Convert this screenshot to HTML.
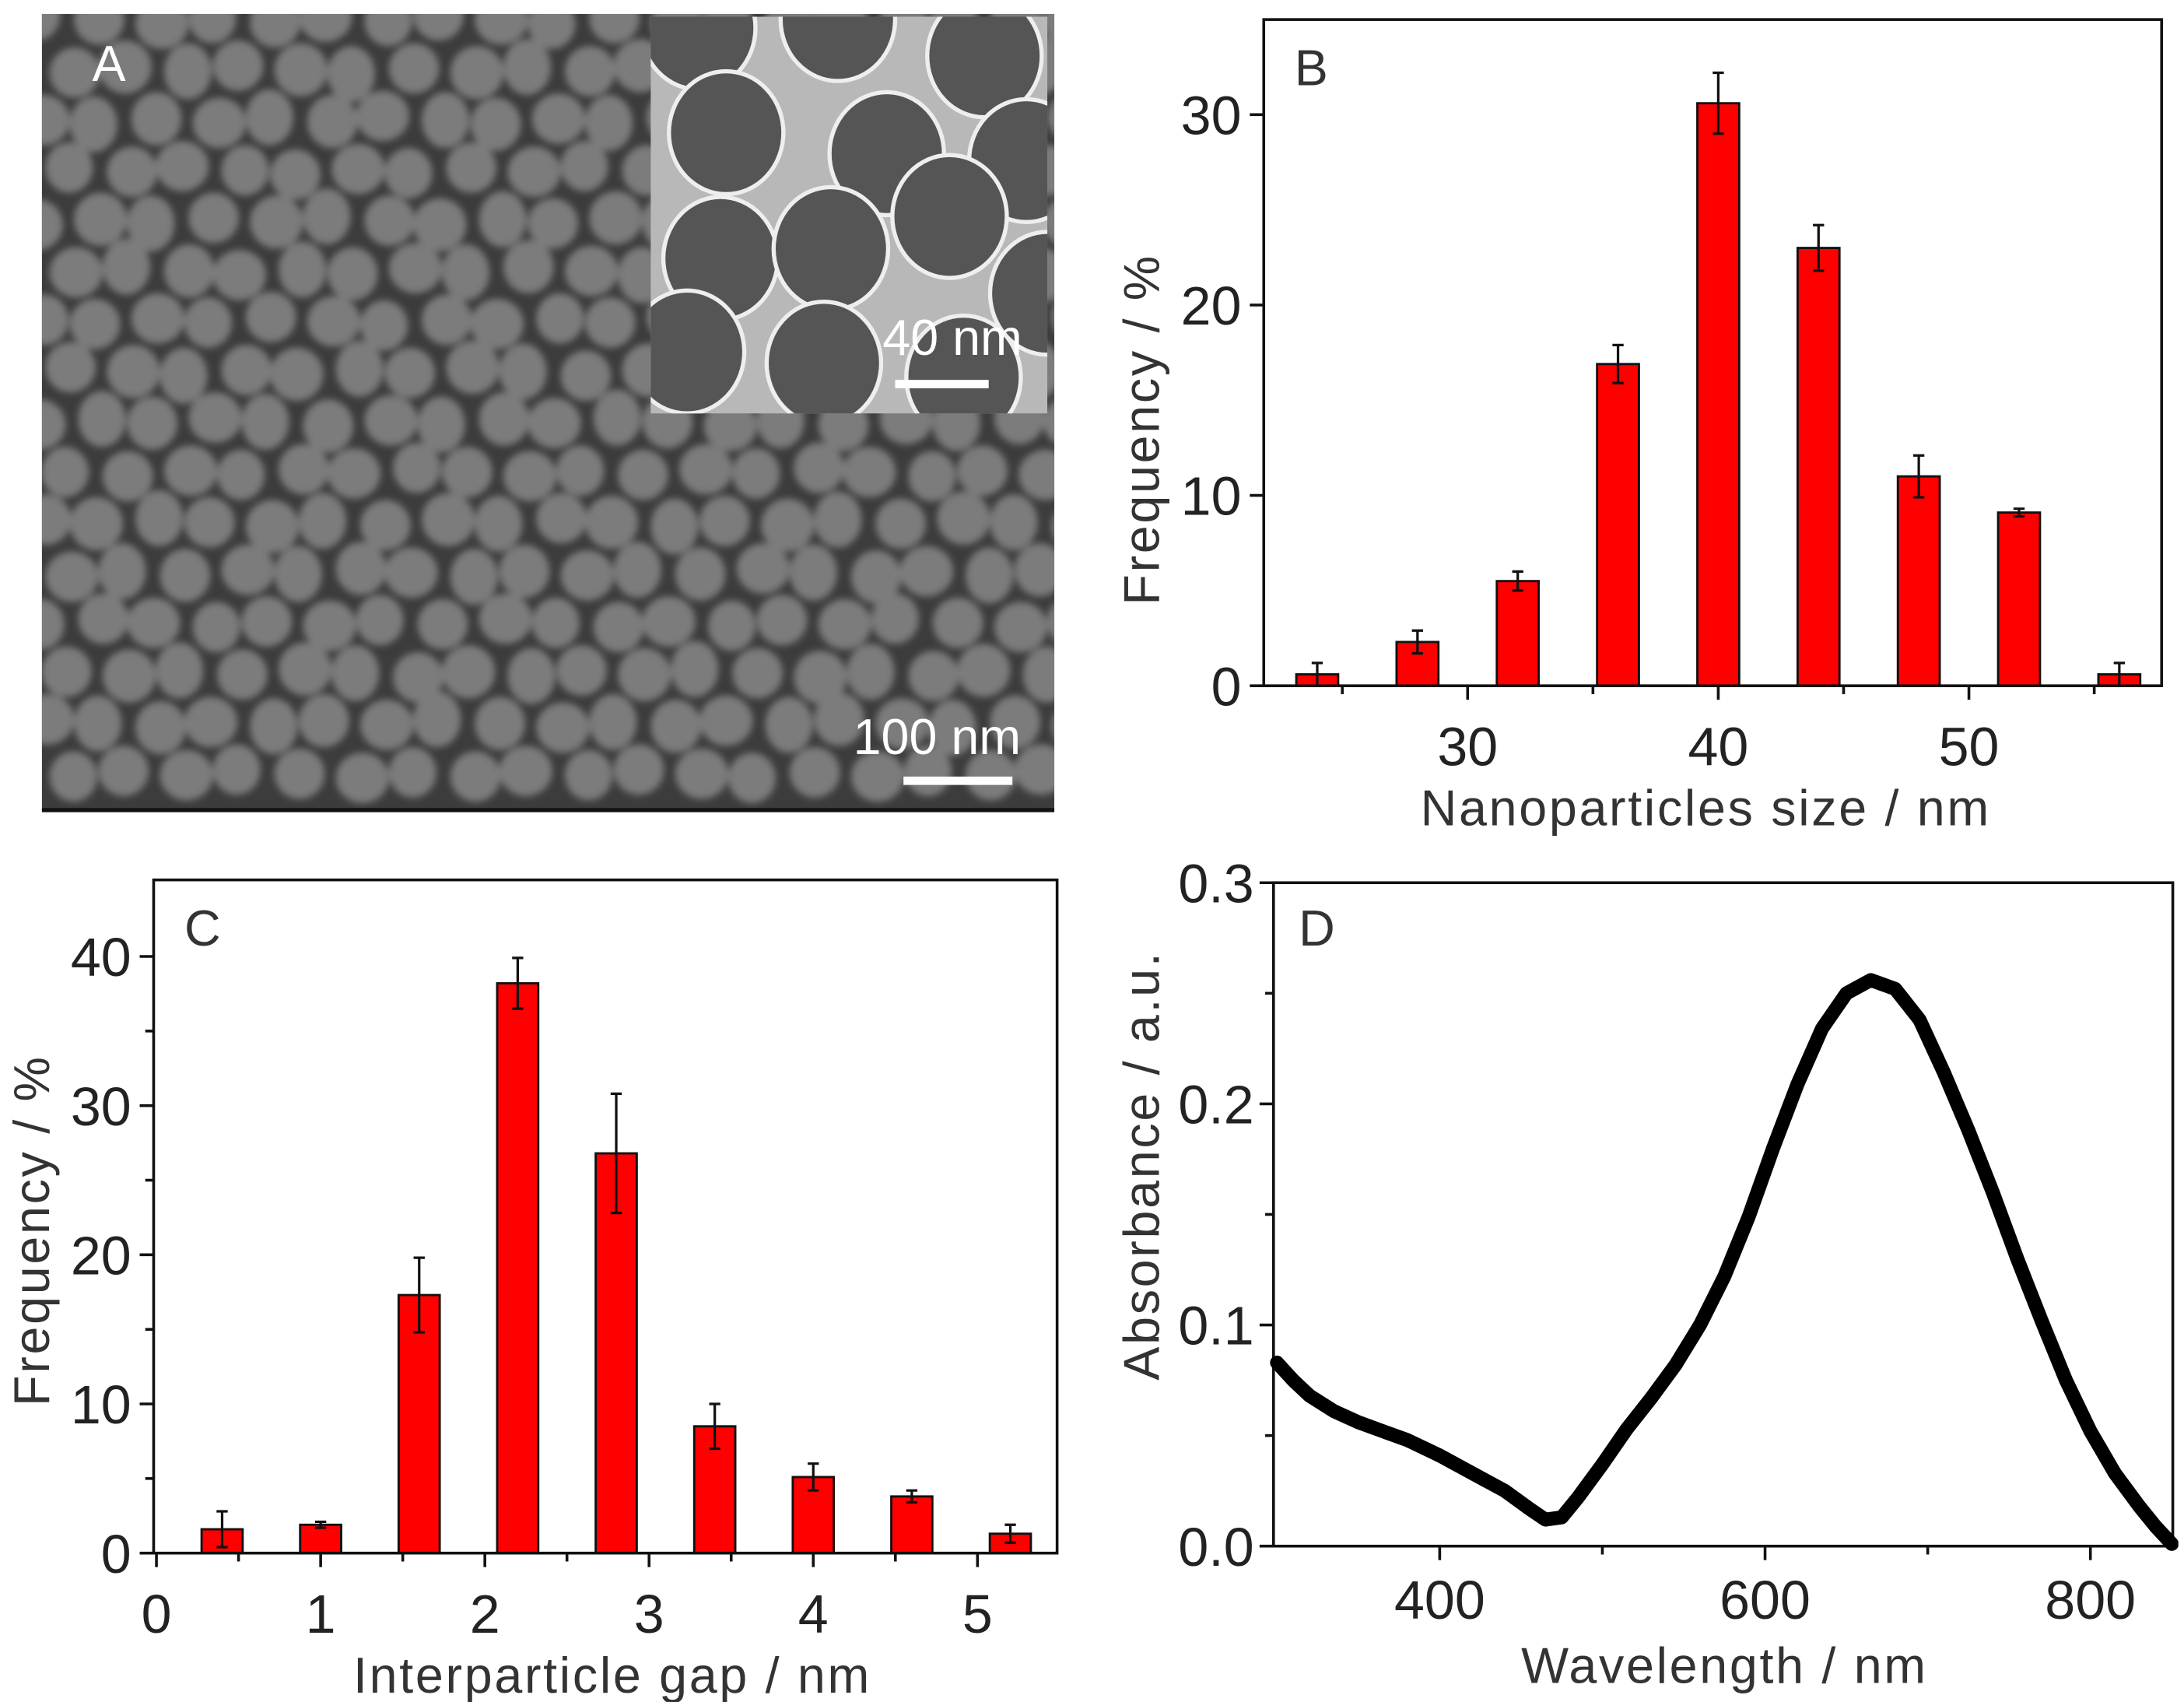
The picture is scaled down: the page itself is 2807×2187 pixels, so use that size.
<!DOCTYPE html>
<html><head><meta charset="utf-8"><style>
html,body{margin:0;padding:0;background:#fff}
svg{display:block}
text{font-family:"Liberation Sans",sans-serif;fill:#222}
</style></head><body>
<svg id="fig" width="2807" height="2187" viewBox="0 0 1564 1218.6" xmlns="http://www.w3.org/2000/svg">
<defs>
<clipPath id="clipA"><rect x="30" y="10" width="725" height="570"/></clipPath>
<clipPath id="clipIn"><rect x="466" y="12" width="284" height="284"/></clipPath>
<clipPath id="clipD"><rect x="905" y="620" width="655" height="495"/></clipPath>
<filter id="blur"><feGaussianBlur stdDeviation="2.5"/></filter>
</defs>
<g id="panelA">
<rect x="30" y="10" width="725" height="570" fill="#3c3c3c"/>
<g id="semDots" clip-path="url(#clipA)" filter="url(#blur)"></g>
<rect x="466" y="12" width="284" height="284" fill="#b8b8b8"/>
<g id="temDots" clip-path="url(#clipIn)"></g>
<line x1="30" y1="580" x2="755" y2="580" stroke="#111" stroke-width="3"/>
<text x="66" y="58" font-size="36" style="fill:#fff">A</text>
<text x="632" y="254" font-size="36" style="fill:#fff">40 nm</text>
<rect x="641" y="272" width="67" height="6" fill="#fff"/>
<text x="611" y="540" font-size="36" style="fill:#fff">100 nm</text>
<rect x="647" y="556" width="78" height="6" fill="#fff"/>
</g>
<g id="panelB"></g>
<g id="panelC"></g>
<g id="panelD"></g>
</svg>
<script>
// Panel B data
const bCategories=[24,28,32,36,40,44,48,52,56];
const bValues=[0.6,2.3,5.5,16.9,30.6,23.0,11.0,9.1,0.6];
const bErrors=[0.6,0.6,0.5,1.0,1.6,1.2,1.1,0.2,0.6];
const bXTicks=[30,40,50];
const bYTicks=[0,10,20,30];
// Panel C data
const cCategories=[0.4,1.0,1.6,2.2,2.8,3.4,4.0,4.6,5.2];
const cValues=[1.6,1.9,17.3,38.2,26.8,8.5,5.1,3.8,1.3];
const cErrors=[1.2,0.2,2.5,1.7,4.0,1.5,0.9,0.4,0.6];
const cXTicks=[0,1,2,3,4,5];
const cYTicks=[0,10,20,30,40];
// Panel D data
const dWavelength=[300,310,320,335,350,365,380,400,420,440,455,465,475,485,500,515,530,545,560,575,590,605,620,635,650,665,680,695,710,725,740,755,770,785,800,815,830,840,850];
const dAbsorbance=[0.083,0.075,0.068,0.061,0.056,0.052,0.048,0.041,0.033,0.025,0.017,0.012,0.013,0.022,0.037,0.053,0.067,0.082,0.100,0.122,0.149,0.180,0.209,0.234,0.250,0.256,0.252,0.238,0.214,0.188,0.160,0.130,0.102,0.075,0.052,0.033,0.018,0.009,0.001];
const dXTicks=[400,600,800];
const dYTicks=[0.0,0.1,0.2,0.3];

const NS="http://www.w3.org/2000/svg";
function mk(parent,tag,attrs){const e=document.createElementNS(NS,tag);for(const k in attrs)e.setAttribute(k,attrs[k]);parent.appendChild(e);return e;}

(function(){
  const g=document.getElementById('semDots');
  for(let r=0;r<16;r++){for(let c=0;c<20;c++){
    const cx=30+c*41+(r%2)*20.5+((r*7+c*13)%9)-4;
    const cy=14+r*36+((r*5+c*3)%7)-3;
    const e=mk(g,'ellipse',{cx:cx,cy:cy,rx:17+((r+c)%3),ry:18+((r*c)%3),fill:'#7b7b7b'});
    
    
  }}
  const t=document.getElementById('temDots');
  const pts=[[500,20],[600,14],[705,40],[520,95],[635,110],[735,115],[516,185],[595,178],[680,155],[750,210],[492,252],[590,260],[690,270]];
  pts.forEach(p=>{const e=mk(t,'ellipse',{cx:p[0],cy:p[1],rx:41,ry:44,fill:'#555',stroke:'#eee','stroke-width':3});
    
    });
})();

function axesFrame(g,L,T,R,B){
  const f=mk(g,'rect',{x:L,y:T,width:R-L,height:B-T,fill:'none',stroke:'#111','stroke-width':2});
  
  
}

function barPanel(id,o){
  const g=document.getElementById(id);
  const xs=v=>o.L+(v-o.x0)/(o.x1-o.x0)*(o.R-o.L);
  const ys=v=>o.B-(v-o.y0)/(o.y1-o.y0)*(o.B-o.T);
  const bw=xs(o.bw)-xs(0);
  o.cats.forEach((c,i)=>{
    const x=xs(c),y=ys(o.vals[i]);
    const b=mk(g,'rect',{x:x-bw/2,y:y,width:bw,height:o.B-y,fill:'#f00',stroke:'#111','stroke-width':1.6});
    
    
    const yt=ys(o.vals[i]+o.errs[i]),yb=ys(Math.max(0,o.vals[i]-o.errs[i]));
    const e=mk(g,'path',{d:`M${x},${yt}V${yb}M${x-4},${yt}H${x+4}M${x-4},${yb}H${x+4}`,stroke:'#111','stroke-width':1.8,fill:'none'});
    
    
  });
  axesFrame(g,o.L,o.T,o.R,o.B);
  o.xt.forEach(v=>{const x=xs(v);
    mk(g,'line',{x1:x,y1:o.B,x2:x,y2:o.B+10,stroke:'#111','stroke-width':2});
    const t=mk(g,'text',{x:x,y:o.B+57,'font-size':39,'text-anchor':'middle'});t.textContent=v;
    
    });
  o.xm.forEach(v=>{const x=xs(v);mk(g,'line',{x1:x,y1:o.B,x2:x,y2:o.B+6,stroke:'#111','stroke-width':2});});
  o.yt.forEach(v=>{const y=ys(v);
    mk(g,'line',{x1:o.L-10,y1:y,x2:o.L,y2:y,stroke:'#111','stroke-width':2});
    const t=mk(g,'text',{x:o.L-16,y:y+14,'font-size':39,'text-anchor':'end'});t.textContent=v;
    
    });
  o.ym.forEach(v=>{const y=ys(v);mk(g,'line',{x1:o.L-6,y1:y,x2:o.L,y2:y,stroke:'#111','stroke-width':2});});
  const xl=mk(g,'text',{x:(o.L+o.R)/2+o.xlOff,y:o.B+100,'font-size':36,'letter-spacing':1.5,'text-anchor':'middle',style:'fill:#333'});xl.textContent=o.xlab;
  
  
  const yl=mk(g,'text',{x:0,y:0,'font-size':36,'letter-spacing':1.5,'text-anchor':'middle',style:'fill:#333',transform:`translate(${o.ylx},${(o.T+o.B)/2+o.ylOff}) rotate(-90)`});yl.textContent='Frequency / %';
  
  
  const pl=mk(g,'text',{x:o.L+22,y:o.T+47,'font-size':36,style:'fill:#333'});pl.textContent=o.label;
  
  
}

barPanel('panelB',{L:905,T:14,R:1548,B:491,x0:30-(1051-905)/17.95,x1:30+(1548-1051)/17.95,y0:0,y1:(491-14)/13.63,
  cats:bCategories,vals:bValues,errs:bErrors,bw:1.67,xt:bXTicks,xm:[25,35,45,55],yt:bYTicks,ym:[],xlab:'Nanoparticles size / nm',xlOff:-5,ylx:830,ylOff:55,label:'B'});
barPanel('panelC',{L:110,T:630,R:757,B:1112,x0:-(112-110)/117.6,x1:(757-112)/117.6,y0:0,y1:(1112-630)/10.68,
  cats:cCategories,vals:cValues,errs:cErrors,bw:0.25,xt:cXTicks,xm:[0.5,1.5,2.5,3.5,4.5],yt:cYTicks,ym:[5,15,25,35],xlab:'Interparticle gap / nm',xlOff:5,ylx:35,ylOff:10,label:'C'});

(function(){
  const g=document.getElementById('panelD');
  const L=912,T=632,R=1556,B=1107;
  const xs=v=>1031+(v-400)*1.165;
  const ys=v=>B-v/0.3*(B-T);
  axesFrame(g,L,T,R,B);
  dXTicks.forEach(v=>{const x=xs(v);
    mk(g,'line',{x1:x,y1:B,x2:x,y2:B+10,stroke:'#111','stroke-width':2});
    const t=mk(g,'text',{x:x,y:B+52,'font-size':39,'text-anchor':'middle'});t.textContent=v;
    
    });
  [500,700].forEach(v=>{const x=xs(v);mk(g,'line',{x1:x,y1:B,x2:x,y2:B+6,stroke:'#111','stroke-width':2});});
  dYTicks.forEach(v=>{const y=ys(v);
    mk(g,'line',{x1:L-10,y1:y,x2:L,y2:y,stroke:'#111','stroke-width':2});
    const t=mk(g,'text',{x:L-14,y:y+14,'font-size':39,'text-anchor':'end'});t.textContent=v.toFixed(1);
    
    });
  [0.05,0.15,0.25].forEach(v=>{const y=ys(v);mk(g,'line',{x1:L-6,y1:y,x2:L,y2:y,stroke:'#111','stroke-width':2});});
  const d=dWavelength.map((w,i)=>(i?'L':'M')+xs(w).toFixed(1)+','+ys(dAbsorbance[i]).toFixed(1)).join('');
  const p=mk(g,'path',{d:d,fill:'none',stroke:'#000','stroke-width':10,'stroke-linejoin':'round','stroke-linecap':'round','clip-path':'url(#clipD)'});
  
  
  const xl=mk(g,'text',{x:1235,y:1205,'font-size':36,'letter-spacing':1.5,'text-anchor':'middle',style:'fill:#333'});xl.textContent='Wavelength / nm';
  
  
  const yl=mk(g,'text',{x:0,y:0,'font-size':36,'letter-spacing':1.5,'text-anchor':'middle',style:'fill:#333',transform:`translate(830,${(T+B)/2-35}) rotate(-90)`});yl.textContent='Absorbance / a.u.';
  
  
  const pl=mk(g,'text',{x:930,y:677,'font-size':36,style:'fill:#333'});pl.textContent='D';
  
  
})();
</script>
</body></html>
